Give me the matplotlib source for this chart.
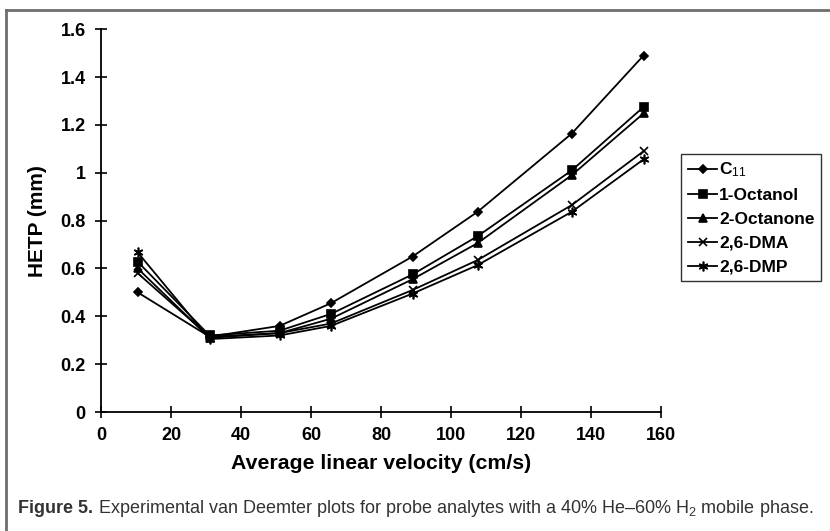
import matplotlib
matplotlib.use("Agg")
import matplotlib.pyplot as plt
from matplotlib.lines import Line2D

plt.rcParams["font.family"] = ["Liberation Sans", "DejaVu Sans"]
plt.rcParams["mathtext.fontset"] = "custom"
plt.rcParams["mathtext.rm"] = "Liberation Sans"
plt.rcParams["mathtext.it"] = "Liberation Sans"
plt.rcParams["mathtext.bf"] = "Liberation Sans:bold"

# Datos
velocity = [10.5, 31, 51, 65.7, 89, 107.6, 134.5, 155]
c11 = [0.50, 0.315, 0.36, 0.455, 0.65, 0.837, 1.164, 1.49]
octanol = [0.628, 0.32, 0.34, 0.41, 0.575, 0.735, 1.01, 1.275]
octanone = [0.60, 0.31, 0.33, 0.39, 0.555, 0.706, 0.99, 1.248]
dma = [0.58, 0.315, 0.33, 0.37, 0.51, 0.635, 0.865, 1.09]
dmp = [0.667, 0.305, 0.32, 0.36, 0.495, 0.614, 0.837, 1.056]

labels = [r"C$_{11}$", "1-Octanol", "2-Octanone", "2,6-DMA", "2,6-DMP"]
x_ticks = [0, 20, 40, 60, 80, 100, 120, 140, 160]
y_ticks = [0, 0.2, 0.4, 0.6, 0.8, 1, 1.2, 1.4, 1.6]
y_tick_labels = ["0", "0.2", "0.4", "0.6", "0.8", "1", "1.2", "1.4", "1.6"]

fig = plt.figure(figsize=(8.3, 5.31), dpi=100)
ax = fig.add_axes([0.1217, 0.224, 0.6747, 0.721])

series = [c11, octanol, octanone, dma, dmp]
markers = ["D", "s", "^", "x", (6, 2, 0)]
sizes = [4, 5.5, 5.5, 6, 7]
for vals, lab, mk, ms in zip(series, labels, markers, sizes):
    ax.plot(velocity, vals, color="black", linewidth=1.3, marker=mk,
            markersize=ms, markeredgewidth=1.2, label=lab)

ax.set_xlim(0, 160)
ax.set_ylim(0, 1.6)
ax.set_xticks(x_ticks)
ax.set_yticks(y_ticks)
ax.set_yticklabels(y_tick_labels)
ax.spines["top"].set_visible(False)
ax.spines["right"].set_visible(False)
for s in ["left", "bottom"]:
    ax.spines[s].set_linewidth(1.3)
ax.tick_params(direction="inout", length=8, width=1.2, labelsize=13, pad=7)
for lbl in ax.get_xticklabels() + ax.get_yticklabels():
    lbl.set_fontweight("bold")

ax.set_xlabel("Average linear velocity (cm/s)", fontsize=15.3, fontweight="bold", labelpad=7)
ax.set_ylabel("HETP (mm)", fontsize=15, fontweight="bold", labelpad=10)

leg = ax.legend(loc="upper left", bbox_to_anchor=(1.036, 0.674), frameon=True,
                fancybox=False, edgecolor="black", handlelength=1.7,
                handletextpad=0.1, borderpad=0.38, labelspacing=0.5,
                borderaxespad=0, prop={"size": 12.5, "weight": "bold"})
leg.get_frame().set_linewidth(1.0)

# Marco gris de la figura
fig.add_artist(Line2D([6 / 830, 1], [1 - 10 / 531, 1 - 10 / 531], color="#6e6e6e", linewidth=2))
fig.add_artist(Line2D([6 / 830, 6 / 830], [0, 1 - 10 / 531], color="#6e6e6e", linewidth=2))

# Leyenda de la figura
cap_y = 1 - 513 / 531
t1 = fig.text(18 / 830, cap_y, "Figure 5.", fontsize=13, fontweight="bold",
              color="#333333", va="baseline")
renderer = fig.canvas.get_renderer()
x_end = t1.get_window_extent(renderer).x1 / fig.bbox.width
fig.text(x_end, cap_y,
         " Experimental van Deemter plots for probe analytes with a 40% He\u201360% H$_\\mathrm{2}$ mobile phase.",
         fontsize=13, color="#333333", va="baseline")

fig.savefig("out.png", dpi=100)
